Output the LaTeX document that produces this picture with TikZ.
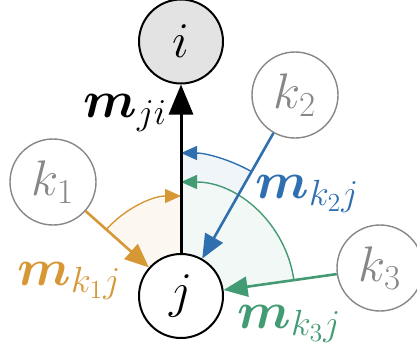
\RequirePackage{fix-cm}
\documentclass[tikz,border=0pt]{standalone}
\usepackage{amsmath, bm}
\definecolor{msgorange}{RGB}{214,151,52}
\definecolor{msgblue}{RGB}{47,111,176}
\definecolor{msggreen}{RGB}{67,155,115}
\definecolor{nbrgray}{RGB}{135,135,135}
\usetikzlibrary{arrows.meta, backgrounds}

\begin{document}
\begin{tikzpicture}[
  x=0.5pt, y=-0.5pt,
  vnode/.style={circle, draw=black, line width=1pt, minimum size=42pt, inner sep=0pt,
                font=\fontsize{25}{25}\selectfont},
  nbr/.style={vnode, draw=nbrgray, text=nbrgray, line width=0.7pt, minimum size=43pt},
  msg/.style={-{Triangle[length=12pt, width=10pt]}, line width=1.3pt},
  agg/.style={-{Triangle[length=8pt, width=7pt]}, line width=0.7pt},
  lbl/.style={font=\fontsize{26}{26}\selectfont, inner sep=0pt, anchor=base west}
]
\useasboundingbox (0,0) rectangle (417,349);
% target and centre
\node[vnode, fill=black!11] (i) at (181,41.5) {$i$};
\node[vnode, fill=white] (j) at (181,296) {$j$};
% neighbours of j
\node[nbr] (k1) at (53,182) {$k_1$};
\node[nbr] (k2) at (295,95) {$k_2$};
\node[nbr] (k3) at (380,268) {$k_3$};
% shaded sectors
\begin{scope}[on background layer]
\fill[msgorange!7] (j.center) -- ++(138:50pt) arc[start angle=138, end angle=90, radius=50pt] -- cycle;
\fill[msgblue!7] (j.center) -- ++(60.5:71.5pt) arc[start angle=60.5, end angle=90, radius=71.5pt] -- cycle;
\fill[msggreen!7] (j.center) -- ++(8:57pt) arc[start angle=8, end angle=90, radius=57pt] -- cycle;
\end{scope}
% aggregation arcs
\draw[agg, msgorange] ([shift={(138:50pt)}]j.center) arc[start angle=138, end angle=90, radius=50pt];
\draw[agg, msgblue] ([shift={(60.5:71.5pt)}]j.center) arc[start angle=60.5, end angle=90, radius=71.5pt];
\draw[agg, msggreen] ([shift={(8:57pt)}]j.center) arc[start angle=8, end angle=90, radius=57pt];
% messages
\draw[-{Triangle[length=15pt, width=12pt]}, line width=1.5pt] (j) -- (i);
\draw[msg, msgorange] (k1) -- (j);
\draw[msg, msgblue] (k2) -- (j);
\draw[msg, msggreen] (k3) -- (j);
\node[lbl] (mji) at (83,117) {$\bm{m}_{ji}$};
\node[lbl, text=msgorange] (mk1) at (17,285) {$\bm{m}_{k_1j}$};
\node[lbl, text=msgblue] (mk2) at (255,198) {$\bm{m}_{k_2j}$};
\node[lbl, text=msggreen] (mk3) at (237,328) {$\bm{m}_{k_3j}$};
\end{tikzpicture}
\end{document}
